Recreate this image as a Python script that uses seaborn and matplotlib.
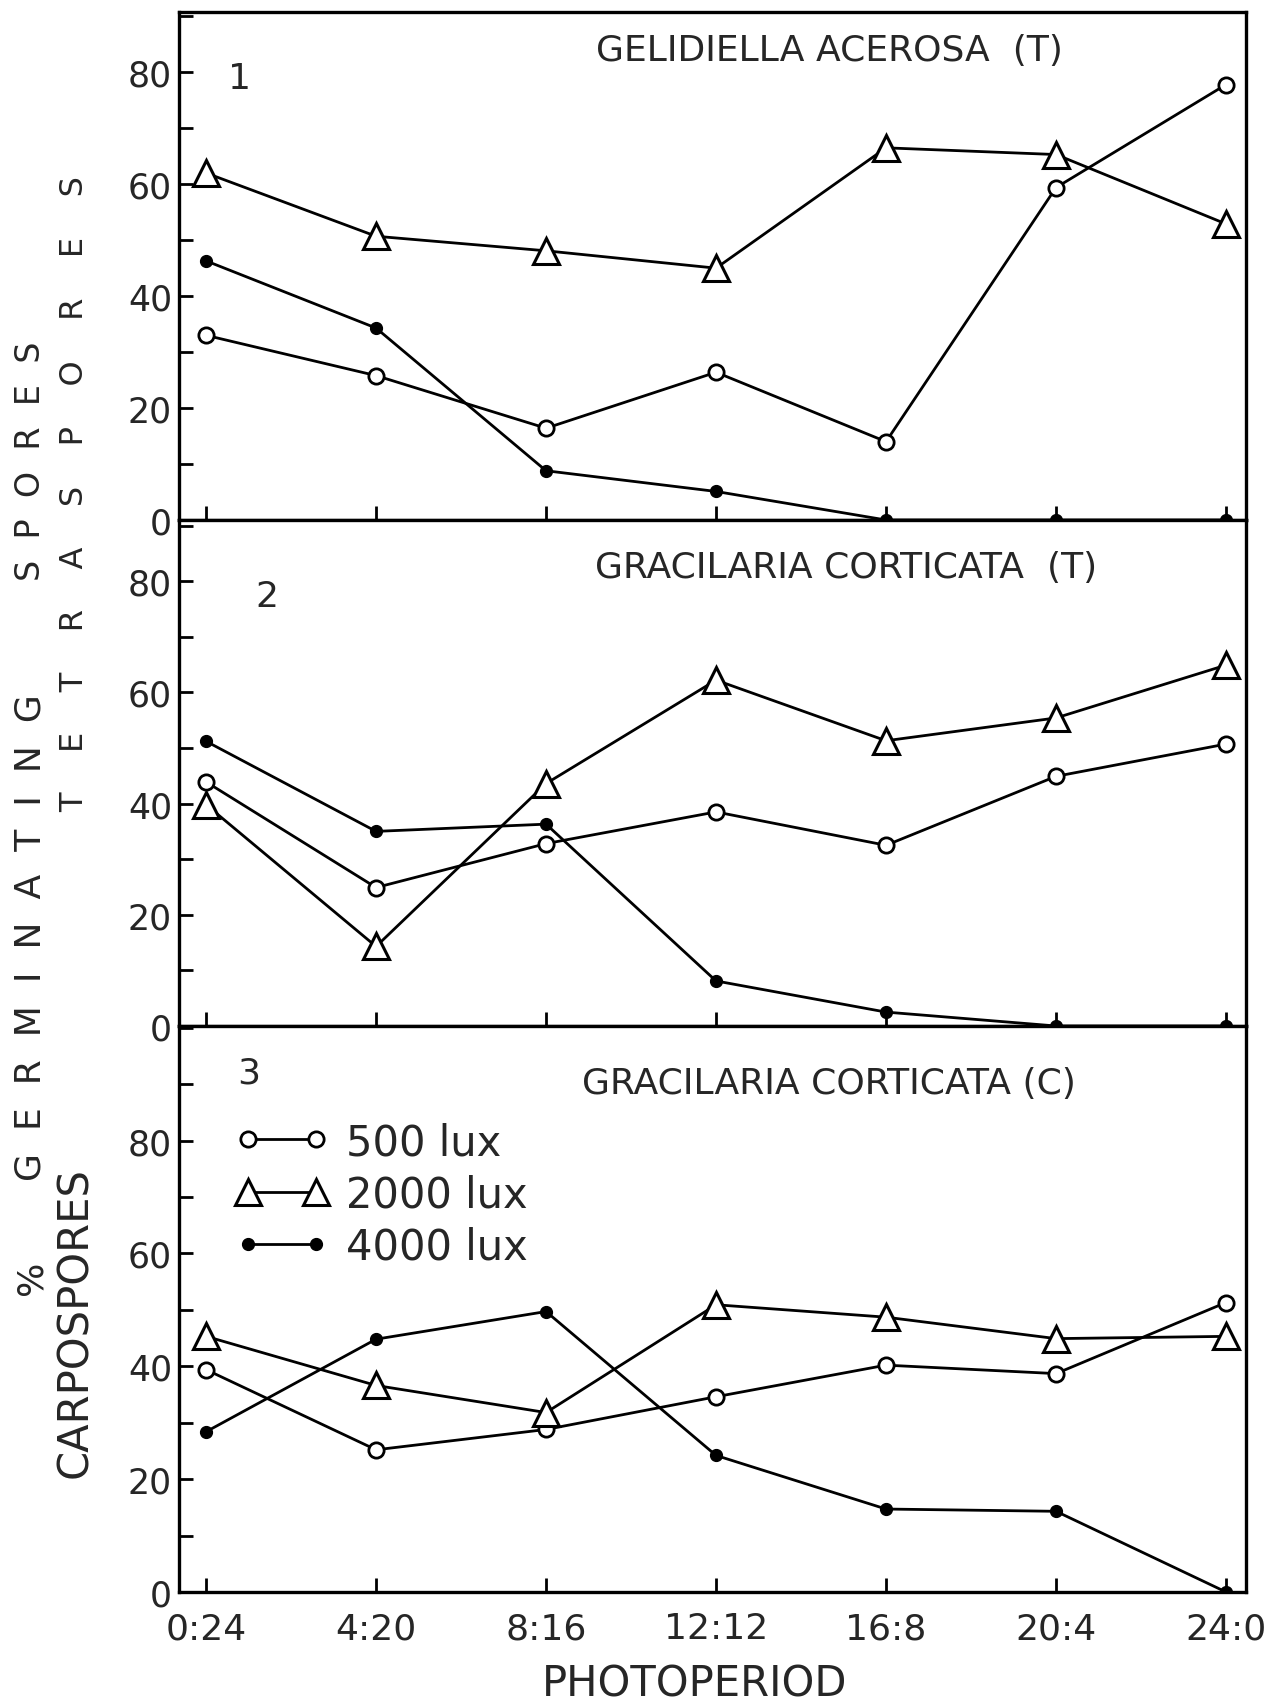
import numpy as np
import pandas as pd
import matplotlib
matplotlib.use("Agg")
import matplotlib.pyplot as plt
import seaborn as sns
from matplotlib.ticker import MultipleLocator
from matplotlib.lines import Line2D
from matplotlib.legend_handler import HandlerLine2D

# photoperiod (light:dark hours)
photoperiods = ["0:24", "4:20", "8:16", "12:12", "16:8", "20:4", "24:0"]
lux_levels = ["500 lux", "2000 lux", "4000 lux"]

# 1. Gelidiella acerosa, tetraspores
gel_t_500 = [33, 25.8, 16.4, 26.4, 14, 59.4, 77.8]
gel_t_2000 = [62, 50.7, 48.1, 45, 66.5, 65.3, 52.9]
gel_t_4000 = [46.3, 34.3, 8.8, 5.1, 0, 0, 0]

# 2. Gracilaria corticata, tetraspores
gra_t_500 = [43.9, 24.9, 32.8, 38.5, 32.5, 44.9, 50.7]
gra_t_2000 = [39.8, 14.3, 43.6, 62.2, 51.3, 55.4, 64.9]
gra_t_4000 = [51.2, 35, 36.3, 8.1, 2.5, 0, 0]

# 3. Gracilaria corticata, carpospores
gra_c_500 = [39.4, 25.2, 28.8, 34.6, 40.2, 38.7, 51.3]
gra_c_2000 = [45.3, 36.6, 31.8, 50.9, 48.7, 44.9, 45.3]
gra_c_4000 = [28.4, 44.8, 49.7, 24.2, 14.7, 14.3, 0]

panel_titles = ["GELIDIELLA ACEROSA  (T)", "GRACILARIA CORTICATA  (T)",
                "GRACILARIA CORTICATA (C)"]
panel_numbers = ["1", "2", "3"]

rows = []
for p, series in enumerate([(gel_t_500, gel_t_2000, gel_t_4000),
                            (gra_t_500, gra_t_2000, gra_t_4000),
                            (gra_c_500, gra_c_2000, gra_c_4000)]):
    for lux, vals in zip(lux_levels, series):
        for i, v in enumerate(vals):
            rows.append({"panel": p, "lux": lux, "pos": i,
                         "photoperiod": photoperiods[i], "germ": v})
df = pd.DataFrame(rows)

sns.set_style("ticks")
plt.rcParams["font.family"] = ["DejaVu Sans"]

styles = {
    "500 lux": dict(marker="o", markersize=11, markerfacecolor="white",
                    markeredgewidth=2.0),
    "2000 lux": dict(marker="^", markersize=19, markerfacecolor="white",
                     markeredgewidth=2.2),
    "4000 lux": dict(marker="o", markersize=8.5, markerfacecolor="black",
                     markeredgewidth=1.0),
}

fig = plt.figure(figsize=(12.68, 17.06), dpi=100)
left, width = 0.1412, 0.8415
bounds = [(0.69461, 0.99215), (0.39801, 0.69461), (0.06624, 0.39801)]
ytops = [90.7, 91, 100.3]
title_pos = [(0.61, 0.925), (0.625, 0.907), (0.609, 0.899)]
num_pos = [(0.057, 0.87), (0.082, 0.85), (0.065, 0.917)]

axes = []
for p, (b, t) in enumerate(bounds):
    ax = fig.add_axes([left, b, width, t - b])
    sub = df[df["panel"] == p]
    for lux in lux_levels:
        d = sub[sub["lux"] == lux]
        sns.lineplot(data=d, x="pos", y="germ", ax=ax, color="black",
                     linewidth=2.0, markeredgecolor="black", label=lux,
                     legend=False, zorder=3, **styles[lux])
    ax.set_xlim(-0.159, 6.118)
    ax.set_ylim(0, ytops[p])
    ax.set_xticks(range(len(photoperiods)))
    ax.yaxis.set_major_locator(MultipleLocator(20))
    ax.yaxis.set_minor_locator(MultipleLocator(10))
    ax.set_yticks([0, 20, 40, 60, 80])
    ax.tick_params(axis="both", which="both", direction="in", length=10,
                   width=2, color="black")
    ax.tick_params(axis="y", labelsize=25, pad=5)
    ax.set_xlabel("")
    ax.set_ylabel("")
    for s in ax.spines.values():
        s.set_linewidth(2.4)
        s.set_color("black")
    if p < 2:
        ax.set_xticklabels([])
    else:
        ax.set_xticklabels(photoperiods, fontsize=26)
        ax.tick_params(axis="x", pad=14)
    ax.text(*title_pos[p], panel_titles[p], transform=ax.transAxes,
            ha="center", va="center", fontsize=26)
    ax.text(*num_pos[p], panel_numbers[p], transform=ax.transAxes,
            ha="center", va="center", fontsize=26)
    axes.append(ax)

# legend in panel 3: markers sit right at both ends of the line
handles = axes[2].get_lines()[:3]
axes[2].legend(handles, lux_levels, loc="upper left",
               bbox_to_anchor=(0.065, 0.832), frameon=False, numpoints=2,
               handlelength=1.63, handletextpad=0.72, labelspacing=0.25,
               borderpad=0, borderaxespad=0, fontsize=30,
               handler_map={Line2D: HandlerLine2D(marker_pad=0)})

# axis titles
fig.text(695 / 1268, 1 - 1685 / 1706, "PHOTOPERIOD", ha="center",
         va="center", fontsize=30)
lab = dict(rotation=90, ha="center", va="center")
fig.text(31 / 1268, 1 - 1278 / 1706, "%", fontsize=26, **lab)
fig.text(31 / 1268, 1 - 938 / 1706, "  ".join("GERMINATING"), fontsize=26,
         **lab)
fig.text(31 / 1268, 1 - 461 / 1706, "  ".join("SPORES"), fontsize=24, **lab)
fig.text(75 / 1268, 1 - 494 / 1706, "    ".join("TETRASPORES"), fontsize=23,
         **lab)
fig.text(75 / 1268, 1 - 1322 / 1706, "CARPOSPORES", fontsize=30, **lab)

fig.savefig("out.png", dpi=100, facecolor="white")
plt.close(fig)
